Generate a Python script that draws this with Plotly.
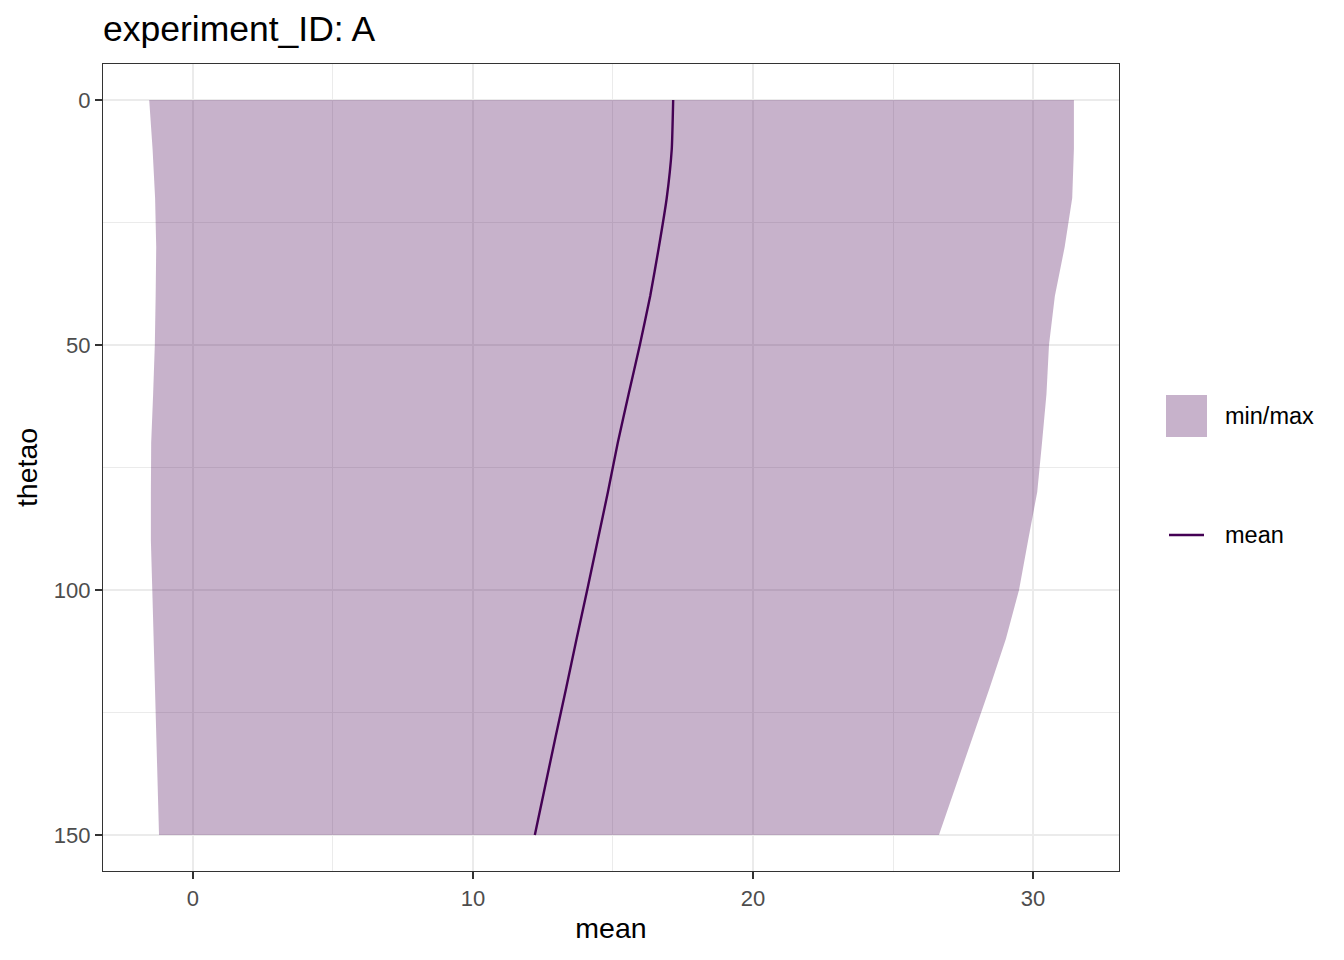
import plotly.graph_objects as go

# Data
depth = [0, 10, 20, 30, 40, 50, 60, 70, 80, 90, 100, 110, 120, 130, 140, 150]
tmin = [-1.56, -1.44, -1.35, -1.31, -1.33, -1.36, -1.42, -1.49, -1.50, -1.50,
        -1.45, -1.40, -1.34, -1.30, -1.26, -1.21]
tmax = [31.46, 31.46, 31.40, 31.13, 30.78, 30.57, 30.48, 30.32, 30.15, 29.82,
        29.50, 29.03, 28.45, 27.85, 27.25, 26.64]
tmean = [17.15, 17.10, 16.92, 16.64, 16.33, 15.96, 15.56, 15.17, 14.82, 14.45,
         14.08, 13.70, 13.33, 12.95, 12.58, 12.21]
legend_labels = ["min/max", "mean"]
title_text = "experiment_ID: A"

FILL = "rgba(68,1,84,0.3)"
LINE = "#440154"
FONT = "Liberation Sans, Arial, sans-serif"

fig = go.Figure()

# min/max ribbon as a polygon
fig.add_trace(go.Scatter(
    x=list(tmin) + list(reversed(tmax)),
    y=list(depth) + list(reversed(depth)),
    fill="toself", fillcolor=FILL, mode="lines",
    line=dict(width=0, color="rgba(0,0,0,0)"),
    hoverinfo="skip", showlegend=False, name=legend_labels[0],
))
fig.add_trace(go.Scatter(
    x=tmean, y=depth, mode="lines",
    line=dict(color=LINE, width=2.4, shape="spline", smoothing=0.4),
    showlegend=False, name=legend_labels[1],
))

L, R, T, B = 103, 225, 64, 89
W, H = 1344, 960
pw, ph = W - L - R, H - T - B

def px(xp):
    return (xp - L) / pw

def py(yp):
    return (H - B - yp) / ph

# manual legend (ggplot-style keys)
fig.add_shape(type="rect", xref="paper", yref="paper",
              x0=px(1166), x1=px(1207), y0=py(437), y1=py(395),
              fillcolor=FILL, line=dict(width=0))
fig.add_shape(type="line", xref="paper", yref="paper",
              x0=px(1169), x1=px(1204), y0=py(535), y1=py(535),
              line=dict(color=LINE, width=2.4))
fig.add_annotation(xref="paper", yref="paper", x=px(1223), y=py(416),
                   text=legend_labels[0], showarrow=False, xanchor="left",
                   yanchor="middle", font=dict(family=FONT, size=23.5, color="black"))
fig.add_annotation(xref="paper", yref="paper", x=px(1223), y=py(535),
                   text=legend_labels[1], showarrow=False, xanchor="left",
                   yanchor="middle", font=dict(family=FONT, size=23.5, color="black"))

axis_common = dict(
    showgrid=True, gridcolor="#EBEBEB", gridwidth=2,
    zeroline=False,
    showline=True, linecolor="#333333", linewidth=1.3, mirror=True,
    ticks="outside", ticklen=7, tickwidth=2, tickcolor="#333333",
    tickfont=dict(family=FONT, size=22, color="#4D4D4D"),
)

fig.update_xaxes(
    range=[-3.21, 33.07], tickvals=[0, 10, 20, 30],
    minor=dict(tickvals=[-5, 5, 15, 25, 35], showgrid=True, gridcolor="#EBEBEB",
               gridwidth=1, ticks=""),
    title=dict(text="mean", font=dict(family=FONT, size=28.5, color="black"), standoff=8),
    **axis_common,
)
fig.update_yaxes(
    range=[157.35, -7.35], tickvals=[0, 50, 100, 150],
    minor=dict(tickvals=[25, 75, 125], showgrid=True, gridcolor="#EBEBEB",
               gridwidth=1, ticks=""),
    title=dict(text="thetao", font=dict(family=FONT, size=28.5, color="black"), standoff=7),
    **axis_common,
)

fig.update_layout(
    width=W, height=H,
    margin=dict(l=L, r=R, t=T, b=B, autoexpand=False),
    paper_bgcolor="white", plot_bgcolor="white",
    title=dict(text=title_text, x=103 / W, xanchor="left", xref="container",
               y=1 - 29 / H, yanchor="middle",
               font=dict(family=FONT, size=35.5, color="black")),
    showlegend=False,
    font=dict(family=FONT),
)

fig.write_html("out.html", config={"displayModeBar": False},
               post_script="document.body.style.margin='0';document.body.style.padding='0';")
